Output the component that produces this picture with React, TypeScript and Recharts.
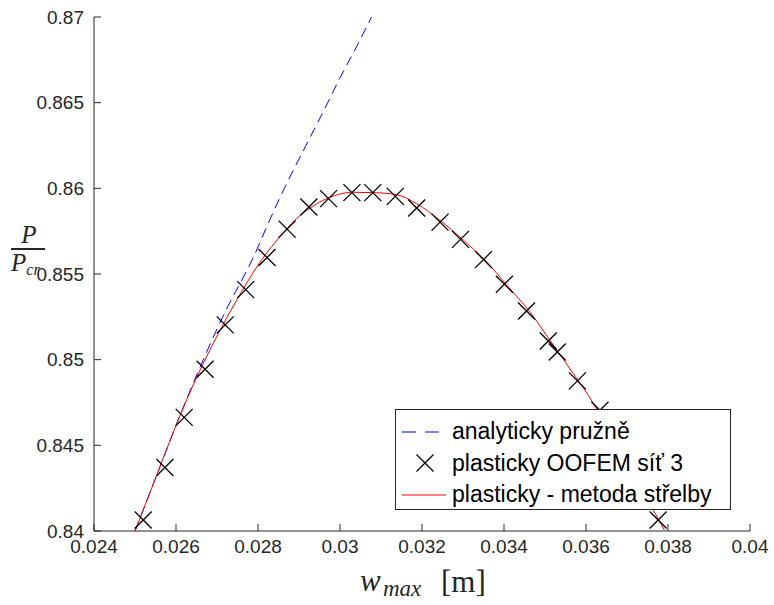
import React from 'react';
import { ComposedChart, Line, Scatter, XAxis, YAxis, Legend } from 'recharts';

// elastic analytic solution (dashed blue)
const elasticX = [0.025, 0.02553, 0.02602, 0.02659, 0.02728, 0.02756, 0.02789, 0.02821, 0.02854, 0.0289, 0.02927, 0.02963, 0.03, 0.03041, 0.03077];
const elasticY = [0.84, 0.84326, 0.84628, 0.84958, 0.85318, 0.85444, 0.85599, 0.85774, 0.85949, 0.86124, 0.86297, 0.86466, 0.86645, 0.8683, 0.87];

// OOFEM results, mesh 3 (black crosses)
const oofemX = [0.0252, 0.02573, 0.0262, 0.02671, 0.0272, 0.0277, 0.02822, 0.02871, 0.02924, 0.02972, 0.03029, 0.0308, 0.03135, 0.03187, 0.03244, 0.03294, 0.0335, 0.03401, 0.03455, 0.03508, 0.0353, 0.03579, 0.03634, 0.03776];
const oofemY = [0.84064, 0.84371, 0.84663, 0.84944, 0.85203, 0.85409, 0.85596, 0.85762, 0.85891, 0.8594, 0.85975, 0.85975, 0.85953, 0.85885, 0.85803, 0.85702, 0.85584, 0.8544, 0.85284, 0.85109, 0.85045, 0.84876, 0.84705, 0.84064];

// shooting method (red)
const shootX = [0.025, 0.02553, 0.02602, 0.02651, 0.02699, 0.02748, 0.02797, 0.02846, 0.02894, 0.02959, 0.03033, 0.03081, 0.03138, 0.03187, 0.03244, 0.03301, 0.03358, 0.03407, 0.03463, 0.03512, 0.03569, 0.03618, 0.0366, 0.037, 0.0374, 0.03764, 0.03791];
const shootY = [0.84, 0.84326, 0.84628, 0.849, 0.85133, 0.85347, 0.85541, 0.85697, 0.85823, 0.8593, 0.85977, 0.85975, 0.85963, 0.8591, 0.85813, 0.85697, 0.8557, 0.85434, 0.85279, 0.85113, 0.84919, 0.84745, 0.8457, 0.8439, 0.8422, 0.84122, 0.84006];

const xTicks = [0.024, 0.026, 0.028, 0.03, 0.032, 0.034, 0.036, 0.038, 0.04];
const yTicks = [0.84, 0.845, 0.85, 0.855, 0.86, 0.865, 0.87];

const seriesNames = ['analyticky pružně', 'plasticky OOFEM síť 3', 'plasticky - metoda střelby'];

const zip = (xs: number[], ys: number[]) => xs.map((x, i) => ({ x, y: ys[i] }));
const elasticData = zip(elasticX, elasticY);
const oofemData = zip(oofemX, oofemY);
const shootData = zip(shootX, shootY);

const SANS = '"Liberation Sans", Arial, sans-serif';
const SERIF = '"Liberation Serif", "Times New Roman", serif';
const AXIS = '#262626';

const fmt = (v: number) => String(Number(v.toFixed(3)));

const Cross = (props: any) => {
    const { cx, cy } = props;
    const s = 8.5;
    return (
        <g stroke="#000" strokeWidth={1.3}>
            <line x1={cx - s} y1={cy - s} x2={cx + s} y2={cy + s} />
            <line x1={cx - s} y1={cy + s} x2={cx + s} y2={cy - s} />
        </g>
    );
};

const YTick = (props: any) => {
    const { x, y, payload } = props;
    return (
        <g>
            <line x1={x + 10} y1={y} x2={x + 17} y2={y} stroke={AXIS} />
            <text x={x} y={y} textAnchor="end" dominantBaseline="central" fill={AXIS} fontSize={19} fontFamily={SANS}>
                {fmt(payload.value)}
            </text>
        </g>
    );
};

const XTick = (props: any) => {
    const { x, y, payload } = props;
    return (
        <g>
            <line x1={x} y1={y - 9} x2={x} y2={y - 16} stroke={AXIS} />
            <text x={x} y={y} dy="0.71em" textAnchor="middle" fill={AXIS} fontSize={19} fontFamily={SANS}>
                {fmt(payload.value)}
            </text>
        </g>
    );
};

const XLabel = (props: any) => {
    const vb = props.viewBox;
    const left = vb.x + vb.width / 2 - 62;
    return (
        <g fill={AXIS} fontFamily={SERIF}>
            <text x={left} y={591} fontSize={31} fontStyle="italic">w</text>
            <text x={left + 23} y={596} fontSize={23} fontStyle="italic">max</text>
            <text x={left + 81} y={592} fontSize={31}>[m]</text>
        </g>
    );
};

const YLabel = () => (
    <g fill={AXIS} fontFamily={SERIF}>
        <text x={29} y={243} textAnchor="middle" fontSize={25} fontStyle="italic">P</text>
        <line x1={11} y1={249} x2={45} y2={249} stroke={AXIS} strokeWidth={2} />
        <text x={11} y={271} fontSize={25} fontStyle="italic">
            P<tspan fontSize={16} dy={4}>cr</tspan>
        </text>
    </g>
);

const LegendBox = () => (
    <div
        style={{
            width: 334,
            height: 99,
            border: '1px solid #262626',
            background: '#fff',
            fontFamily: SANS,
            fontSize: 23,
            color: '#000',
            boxSizing: 'content-box',
        }}
    >
        {seriesNames.map((name, i) => (
            <div key={name} style={{ display: 'flex', alignItems: 'center', height: 31.5, marginTop: i === 0 ? 6 : 0 }}>
                <svg width={56} height={24} style={{ flex: 'none' }}>
                    {i === 0 && <line x1={6} y1={12} x2={50} y2={12} stroke="#0000ff" strokeDasharray="14 9" />}
                    {i === 1 && <Cross cx={29} cy={12} />}
                    {i === 2 && <line x1={6} y1={12} x2={50} y2={12} stroke="#ff0000" />}
                </svg>
                <span style={{ whiteSpace: 'nowrap' }}>{name}</span>
            </div>
        ))}
    </div>
);

export default function App() {
    return (
        <div style={{ position: 'absolute', left: 0, top: 0, width: 774, height: 605, background: '#fff' }}>
            <ComposedChart width={774} height={605} margin={{ top: 17, right: 24, bottom: 44, left: 34 }}>
                <XAxis
                    dataKey="x"
                    type="number"
                    domain={[0.024, 0.04]}
                    ticks={xTicks}
                    allowDataOverflow
                    stroke={AXIS}
                    tickLine={false}
                    tickSize={0}
                    tickMargin={9}
                    tick={<XTick />}
                    height={30}
                    label={<XLabel />}
                />
                <YAxis
                    dataKey="y"
                    type="number"
                    domain={[0.84, 0.87]}
                    ticks={yTicks}
                    allowDataOverflow
                    stroke={AXIS}
                    tickLine={false}
                    tickSize={0}
                    tickMargin={10}
                    tick={<YTick />}
                    width={60}
                    label={<YLabel />}
                />
                <Line
                    data={elasticData}
                    dataKey="y"
                    name={seriesNames[0]}
                    type="monotone"
                    stroke="#0000ff"
                    strokeWidth={1}
                    strokeDasharray="10 6"
                    dot={false}
                    activeDot={false}
                    isAnimationActive={false}
                />
                <Scatter
                    data={oofemData}
                    dataKey="y"
                    name={seriesNames[1]}
                    shape={<Cross />}
                    isAnimationActive={false}
                />
                <Line
                    data={shootData}
                    dataKey="y"
                    name={seriesNames[2]}
                    type="monotone"
                    stroke="#ff0000"
                    strokeWidth={1}
                    dot={false}
                    activeDot={false}
                    isAnimationActive={false}
                />
                <Legend
                    layout="vertical"
                    align="center"
                    verticalAlign="middle"
                    content={<LegendBox />}
                    wrapperStyle={{ left: 395, top: 409, width: 336, height: 101 }}
                />
            </ComposedChart>
        </div>
    );
}
